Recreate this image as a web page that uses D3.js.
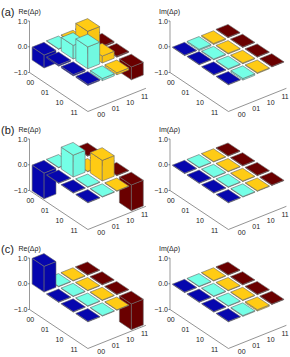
<!DOCTYPE html>
<html>
<head>
<meta charset="utf-8">
<title>Density matrix difference</title>
<style>
    html, body { margin: 0; padding: 0; background: #fff; }
    svg { display: block; }
    text { font-family: "Liberation Sans", Arial, sans-serif; fill: #222; }
</style>
</head>
<body>
<svg id="chart" width="290" height="357"></svg>
<script src="https://d3js.org/d3.v7.min.js"></script>
<script>
    var basis = ["00", "01", "10", "11"];
    var zTicks = [-1, 0, 1];
    var colColors = ["#0606ae", "#74ffe6", "#ffcb14", "#6a0000"];

    // rows are the left axis, columns the right axis
    var reA = [
        [-0.50, 0.02, 0.02, 0.03],
        [-0.05, 0.53, 0.85, 0.05],
        [-0.05, 0.85, 0.27, 0.04],
        [-0.04, -0.08, -0.08, -0.50]
    ];
    var imA = [
        [-0.02, -0.05, -0.04, 0.02],
        [0.02, -0.03, -0.03, 0.02],
        [-0.02, -0.03, -0.03, 0.02],
        [-0.02, -0.06, -0.03, 0.02]
    ];
    var reB = [
        [-1.00, 0.00, 0.00, 0.00],
        [0.00, 0.85, 0.00, 0.00],
        [0.00, 0.00, 0.80, 0.00],
        [0.00, 0.00, 0.00, -1.00]
    ];
    var imB = [
        [0.00, 0.00, 0.00, 0.00],
        [0.00, 0.00, 0.00, 0.00],
        [0.00, 0.00, 0.00, 0.00],
        [0.00, 0.00, 0.00, 0.00]
    ];
    var reC = [
        [1.00, 0.00, 0.00, 0.00],
        [0.00, 0.00, 0.00, 0.00],
        [0.00, 0.00, 0.00, 0.00],
        [0.00, 0.00, 0.00, -1.00]
    ];
    var imC = [
        [0.00, -0.02, -0.02, 0.00],
        [0.00, 0.00, 0.00, 0.00],
        [0.00, 0.00, 0.00, 0.00],
        [0.00, -0.03, -0.05, 0.00]
    ];

    var panelLetters = ["(a)", "(b)", "(c)"];
    var panelTops = [0, 118, 237];
    var svg = d3.select("#chart");

    // position scales, in px along each edge of the floor
    var rowX = d3.scaleLinear().domain([0, 4]).range([0, 58.4]);
    var rowY = d3.scaleLinear().domain([0, 4]).range([0, 39]);
    var colX = d3.scaleLinear().domain([0, 4]).range([0, 58]);
    var colY = d3.scaleLinear().domain([0, 4]).range([0, -23.2]);
    var zY = d3.scaleLinear().domain([-1, 1]).range([72.5, 21]);
    var inset = 0.09;

    function drawPanel(x0, top, matrix, label) {
        var g = svg.append("g").attr("transform", "translate(" + x0 + "," + top + ")");

        function project(r, c, z) {
            return [rowX(r) + colX(c), rowY(r) + colY(c) + zY(z)];
        }

        // axes
        var z0 = project(0, 0, -1), z1 = project(0, 0, 1);
        g.append("line")
            .attr("x1", z0[0]).attr("y1", z0[1]).attr("x2", z1[0]).attr("y2", z1[1])
            .attr("stroke", "#999").attr("stroke-width", 1);
        var floor = [project(0, 0, -1), project(4, 0, -1), project(4, 4, -1)];
        g.append("path")
            .attr("d", d3.line()(floor))
            .attr("fill", "none").attr("stroke", "#666").attr("stroke-width", 0.7);

        zTicks.forEach(function (t) {
            var p = project(0, 0, t);
            g.append("line")
                .attr("x1", p[0] - 1.5).attr("y1", p[1]).attr("x2", p[0]).attr("y2", p[1])
                .attr("stroke", "#555").attr("stroke-width", 0.7);
            g.append("text")
                .attr("x", p[0] - 2).attr("y", p[1] + 2.5)
                .attr("text-anchor", "end").attr("font-size", 7)
                .text(t === -1 ? "\u22121.0" : d3.format(".1f")(t));
        });

        basis.forEach(function (name, i) {
            var a = project(i + 0.5, 0, -1);
            g.append("text")
                .attr("x", a[0] - 6.5).attr("y", a[1] + 8)
                .attr("text-anchor", "middle").attr("font-size", 7)
                .text(name);
            var b = project(4, i + 0.5, -1);
            g.append("text")
                .attr("x", b[0] + 6).attr("y", b[1] + 8)
                .attr("text-anchor", "middle").attr("font-size", 7)
                .text(name);
        });

        g.append("text")
            .attr("x", z0[0] - 11).attr("y", 14)
            .attr("font-size", 7)
            .text(label);

        // back to front
        var cells = [];
        matrix.forEach(function (row, r) {
            row.forEach(function (v, c) {
                cells.push({ r: r, c: c, v: v });
            });
        });
        cells.sort(function (a, b) { return (a.r - a.c) - (b.r - b.c); });

        var line = d3.line();
        cells.forEach(function (d) {
            var r0 = d.r + inset, r1 = d.r + 1 - inset;
            var c0 = d.c + inset, c1 = d.c + 1 - inset;
            var hi = Math.max(d.v, 0), lo = Math.min(d.v, 0);
            if (hi === lo) { lo = -0.02; }
            var color = colColors[d.c];
            var faces = [
                { pts: [project(r0, c0, hi), project(r1, c0, hi), project(r1, c0, lo), project(r0, c0, lo)], fill: color },
                { pts: [project(r1, c0, hi), project(r1, c1, hi), project(r1, c1, lo), project(r1, c0, lo)], fill: d3.rgb(color).darker(0.08) },
                { pts: [project(r0, c0, hi), project(r0, c1, hi), project(r1, c1, hi), project(r1, c0, hi)], fill: color }
            ];
            faces.forEach(function (f) {
                g.append("path")
                    .attr("d", line(f.pts) + "Z")
                    .attr("fill", f.fill)
                    .attr("stroke", "#6a6a6a")
                    .attr("stroke-width", 0.6)
                    .attr("stroke-linejoin", "round");
            });
        });
    }

    var reMatrices = [reA, reB, reC];
    var imMatrices = [imA, imB, imC];
    panelTops.forEach(function (top, i) {
        svg.append("text")
            .attr("x", 1).attr("y", top + 15.5)
            .attr("font-size", 11)
            .text(panelLetters[i]);
        drawPanel(29.5, top, reMatrices[i], "Re(\u0394\u03c1)");
        drawPanel(170, top, imMatrices[i], "Im(\u0394\u03c1)");
    });
</script>
</body>
</html>
